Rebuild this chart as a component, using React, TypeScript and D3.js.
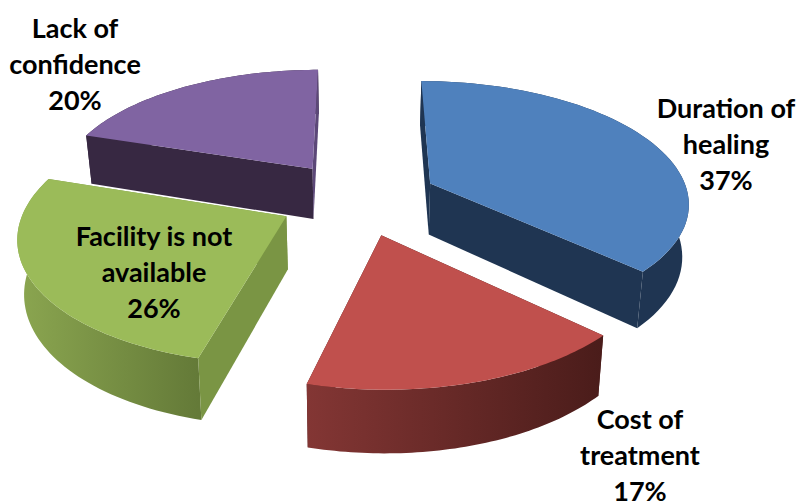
import React from "react";
import * as d3 from "d3";

// Share of respondents per barrier, clockwise from twelve o'clock
const categories = ["Duration of healing", "Cost of treatment", "Facility is not available", "Lack of confidence"];
const shares = [37, 17, 26, 20];
const labelLines = [
  ["Duration of", "healing", "37%"],
  ["Cost of", "treatment", "17%"],
  ["Facility is not", "available", "26%"],
  ["Lack of", "confidence", "20%"],
];
const labelCentres = [726, 640, 154, 75];
const labelBaselines = [118, 429, 246, 38];
const topColours = ["#4F81BD", "#C0504D", "#9BBB59", "#8064A2"];
const rimColours = [["#1F3552", "#1F3552"], ["#833634", "#4A1C1A"], ["#8BA650", "#647A38"], ["#372842", "#372842"]];
const startWallColours = ["#1F3552", "#4A1C1A", "#7A9544", "#372842"];
const endWallColours = ["#1F3552", "#4A1C1A", "#7A9544", "#5C4878"];
const paintOrder = [3, 0, 2, 1];

// Camera and pie geometry
const width = 799;
const height = 503;
const cx = 358;
const cy = 198;
const radius = 259;
const explode = 80;
const tilt = 0.466;
const perspective = 1829;
const thickness = 52;
const baseShrink = 0.98;

type Pt = [number, number];

function project(x: number, z: number, lower: boolean): Pt {
  const k = 1 / (1 - z / perspective);
  const sx = x * k * (lower ? baseShrink : 1);
  const sy = tilt * z * k + (lower ? thickness * k : 0);
  return [cx + sx, cy + sy];
}

const pie = d3.pie<number>().sort(null).value((d) => d);
const arcs = pie(shares);
const path = d3.line<Pt>();

export default function App() {
  const slices = arcs.map((arc, i) => {
    const mid = (arc.startAngle + arc.endAngle) / 2;
    const ox = explode * Math.sin(mid);
    const oz = -explode * Math.cos(mid);
    const rimAt = (a: number, lower: boolean) =>
      project(ox + radius * Math.sin(a), oz - radius * Math.cos(a), lower);
    const angles = d3.range(0, 61).map((t) => arc.startAngle + ((arc.endAngle - arc.startAngle) * t) / 60);
    const upperRim = angles.map((a) => rimAt(a, false));
    const lowerRim = angles.map((a) => rimAt(a, true));
    const apexTop = project(ox, oz, false);
    const apexLow = project(ox, oz, true);
    const xs = upperRim.map((p) => p[0]);
    const startWall = {
      d: path([apexTop, upperRim[0], lowerRim[0], apexLow]) + "Z",
      fill: startWallColours[i],
      facing: -Math.sin(arc.startAngle),
    };
    const endWall = {
      d: path([apexTop, upperRim[60], lowerRim[60], apexLow]) + "Z",
      fill: endWallColours[i],
      facing: Math.sin(arc.endAngle),
    };
    // Walls facing away go under the rim, walls facing the viewer over it
    const walls = [startWall, endWall];
    return {
      i,
      top: path([apexTop, ...upperRim]) + "Z",
      rim: path([...upperRim, ...[...lowerRim].reverse()]) + "Z",
      backWalls: walls.filter((w) => w.facing < -0.01),
      frontWalls: walls.filter((w) => w.facing >= -0.01),
      x0: d3.min(xs) as number,
      x1: d3.max(xs) as number,
    };
  });

  return (
    <svg
      width={width}
      height={height}
      viewBox={`0 0 ${width} ${height}`}
      style={{ position: "absolute", left: 0, top: 0, background: "#fff" }}
    >
      <defs>
        {slices.map((s) => (
          <linearGradient key={s.i} id={`rim-${s.i}`} gradientUnits="userSpaceOnUse" x1={s.x0} x2={s.x1} y1={0} y2={0}>
            <stop offset="0" stopColor={rimColours[s.i][0]} />
            <stop offset="1" stopColor={rimColours[s.i][1]} />
          </linearGradient>
        ))}
      </defs>
      {paintOrder.map((idx) => {
        const s = slices[idx];
        return (
          <g key={categories[idx]}>
            {s.backWalls.map((w, n) => (
              <path key={n} d={w.d} fill={w.fill} />
            ))}
            <path d={s.rim} fill={`url(#rim-${idx})`} />
            {s.frontWalls.map((w, n) => (
              <path key={n} d={w.d} fill={w.fill} />
            ))}
            <path d={s.top} fill={topColours[idx]} />
          </g>
        );
      })}
      {labelLines.map((lines, i) => (
        <text
          key={categories[i]}
          textAnchor="middle"
          fontFamily="Lato, sans-serif"
          fontWeight={700}
          fontSize={27}
          fill="#000"
        >
          {lines.map((line, j) => (
            <tspan key={line} x={labelCentres[i]} y={labelBaselines[i] + j * 36}>
              {line}
            </tspan>
          ))}
        </text>
      ))}
    </svg>
  );
}
